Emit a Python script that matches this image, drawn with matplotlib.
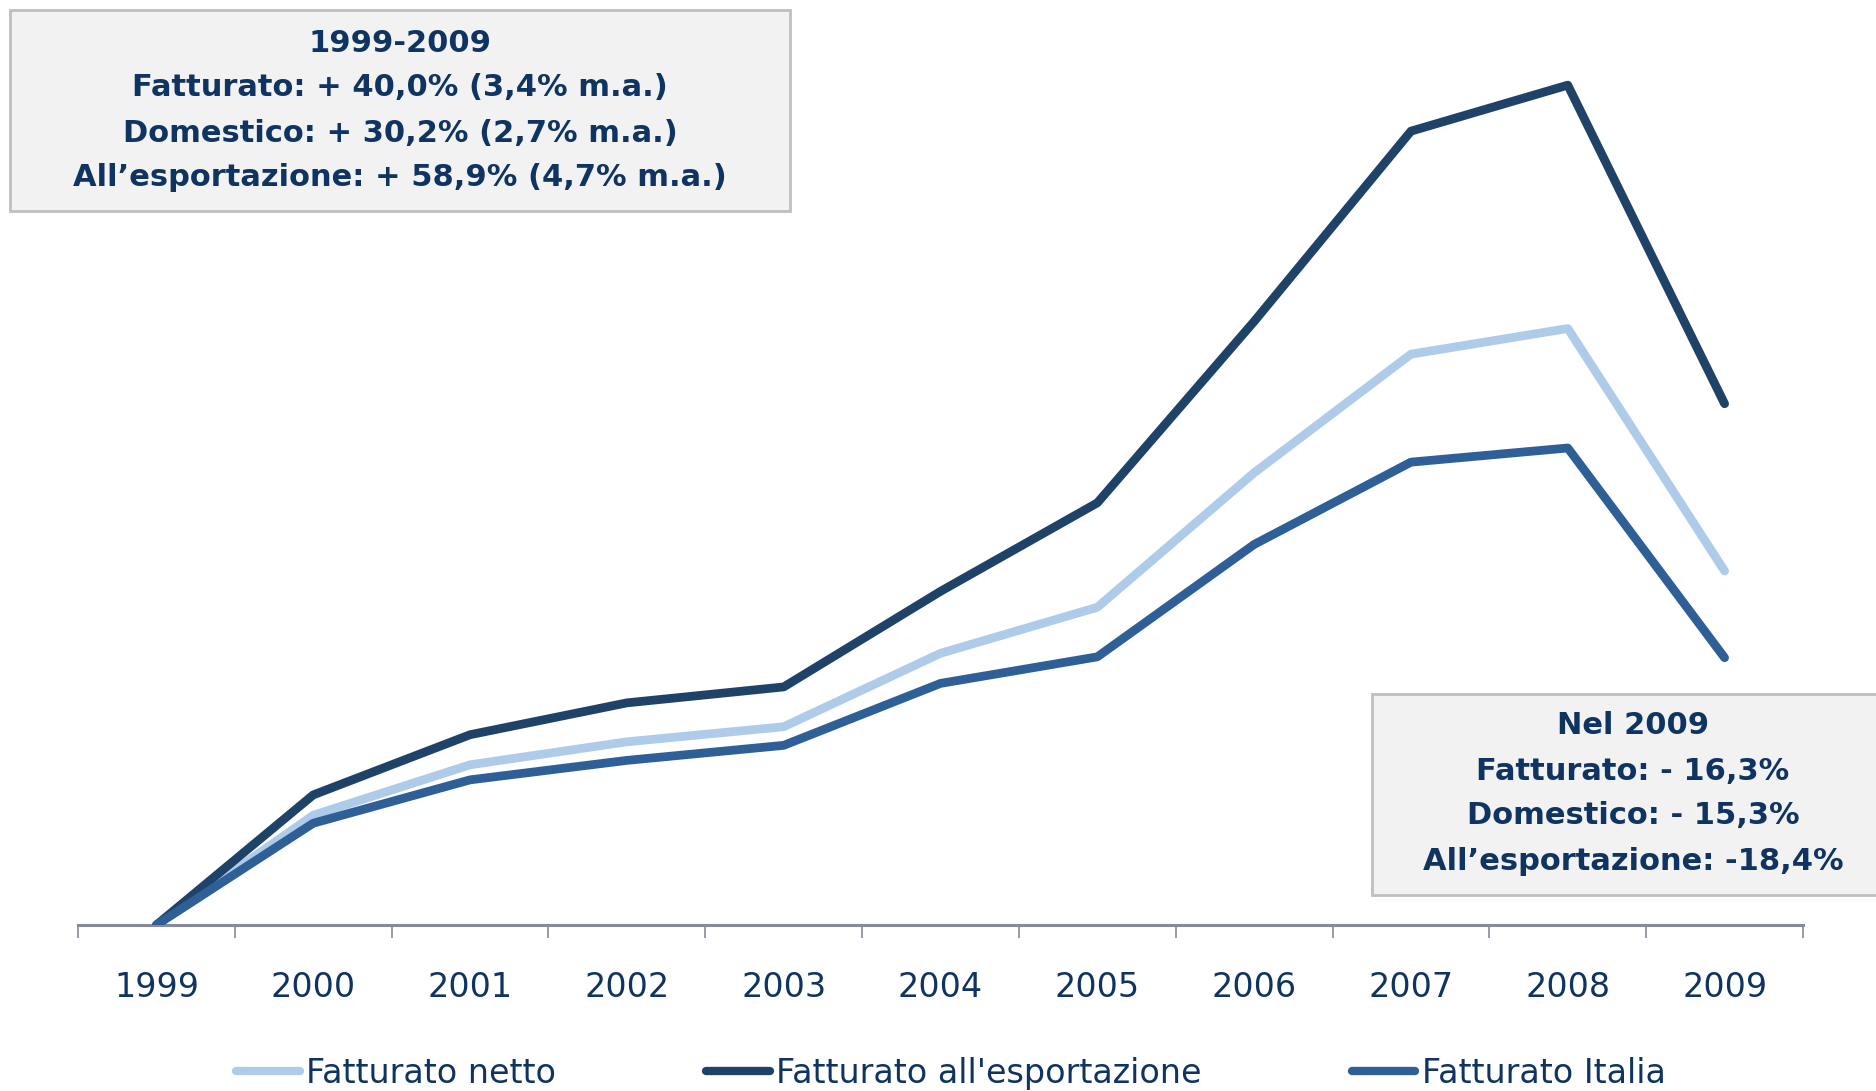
import numpy as np
from matplotlib import pyplot as plt
from matplotlib.patches import Rectangle

years = ['1999', '2000', '2001', '2002', '2003', '2004', '2005', '2006', '2007', '2008', '2009']
netto = [100, 112.4, 118.1, 120.7, 122.4, 130.7, 135.9, 151.1, 164.5, 167.4, 140.0]
export = [100, 114.7, 121.5, 125.1, 126.9, 137.7, 147.7, 168.2, 189.7, 194.9, 158.9]
italia = [100, 111.5, 116.4, 118.6, 120.3, 127.3, 130.3, 143.0, 152.3, 153.9, 130.2]

box1 = ['1999-2009', 'Fatturato: + 40,0% (3,4% m.a.)',
        'Domestico: + 30,2% (2,7% m.a.)', 'All\u2019esportazione: + 58,9% (4,7% m.a.)']
box2 = ['Nel 2009', 'Fatturato: - 16,3%', 'Domestico: - 15,3%', 'All\u2019esportazione: -18,4%']

navy = '#0F3461'
narrow = ['Liberation Sans Narrow', 'DejaVu Sans']
W, H = 1876, 1091

fig = plt.figure(figsize=(W / 100, H / 100), dpi=100)
ax = fig.add_axes([78 / W, 1 - 925 / H, (1803 - 78) / W, (925 - 40) / H])

x = np.arange(len(years))
style = dict(lw=6.3, solid_capstyle='round', solid_joinstyle='round')
ax.plot(x, netto, color='#AECCEA', label='Fatturato netto', **style)
ax.plot(x, export, color='#1F4368', label="Fatturato all'esportazione", **style)
ax.plot(x, italia, color='#2E5F96', label='Fatturato Italia', **style)

ax.set_xlim(-0.5, 10.5)
ax.set_ylim(100, 200)
for s in ['top', 'right', 'left']:
    ax.spines[s].set_visible(False)
ax.spines['bottom'].set_color('#868A9A')
ax.spines['bottom'].set_linewidth(2.2)
ax.spines['bottom'].set_zorder(0)
ax.set_yticks([])
ax.set_xticks(np.arange(-0.5, 11, 1))
ax.set_xticklabels([])
ax.tick_params(axis='x', which='major', length=9, width=1.2, color='#868A9A')
ax.set_xticks(x, minor=True)
ax.set_xticklabels(years, minor=True, fontsize=24, color=navy, family=narrow)
ax.tick_params(axis='x', which='minor', length=0, pad=33)

leg = fig.legend(loc='center', bbox_to_anchor=(0.507, 0.016), ncol=3, frameon=False,
                 handlelength=1.9, handletextpad=0.2, columnspacing=4.5,
                 prop={'family': narrow, 'size': 24})
for t in leg.get_texts():
    t.set_color(navy)
for h in leg.legend_handles:
    h.set_linewidth(6)
    h.set_solid_capstyle('round')

# annotation boxes
boxfont = dict(ha='center', va='center', fontsize=22, fontweight='bold', color=navy,
               family='DejaVu Sans', zorder=6)
fig.patches.append(Rectangle((10 / W, 1 - 211 / H), 780 / W, 201 / H, transform=fig.transFigure,
                             facecolor='#F2F2F2', edgecolor='#BFBFBF', lw=2, zorder=5))
for i, line in enumerate(box1):
    fig.text(400 / W, 1 - (43 + 45 * i) / H, line, **boxfont)

fig.patches.append(Rectangle((1372 / W, 1 - 895 / H), 520 / W, 201 / H, transform=fig.transFigure,
                             facecolor='#F2F2F2', edgecolor='#BFBFBF', lw=2, zorder=5))
for i, line in enumerate(box2):
    fig.text(1633 / W, 1 - (726 + 45 * i) / H, line, **boxfont)

fig.savefig('out.png', dpi=100)
